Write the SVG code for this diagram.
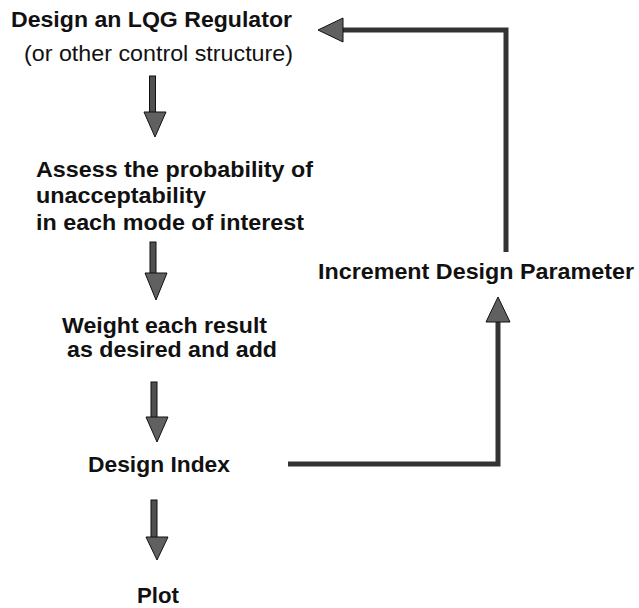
<svg xmlns="http://www.w3.org/2000/svg" width="639" height="608" viewBox="0 0 639 608">
<defs>
<style>
text{font-family:"Liberation Sans",Arial,Helvetica,sans-serif;font-size:22.5px;fill:#111;}
.b{font-weight:700;}
.r{font-weight:400;font-size:22px;}
.shaft{fill:#505050;stroke:#111;stroke-width:1;}
.head{fill:#606060;stroke:#111;stroke-width:1;stroke-linejoin:miter;}
.fb{fill:none;stroke:#333;stroke-width:5;stroke-linejoin:miter;}
</style>
</defs>
<rect width="639" height="608" fill="#fff"/>
<g id="n1">
<text class="b" x="11" y="27" textLength="281" lengthAdjust="spacingAndGlyphs">Design an LQG Regulator</text>
<text class="r" x="24" y="61" textLength="269" lengthAdjust="spacingAndGlyphs">(or other control structure)</text>
</g>
<g id="n2">
<text class="b" x="36" y="177" textLength="277" lengthAdjust="spacingAndGlyphs">Assess the probability of</text>
<text class="b" x="36" y="203" textLength="170" lengthAdjust="spacingAndGlyphs">unacceptability</text>
<text class="b" x="36" y="230" textLength="268" lengthAdjust="spacingAndGlyphs">in each mode of interest</text>
</g>
<g id="n3">
<text class="b" x="62" y="333" textLength="205" lengthAdjust="spacingAndGlyphs">Weight each result</text>
<text class="b" x="67" y="357" textLength="210" lengthAdjust="spacingAndGlyphs">as desired and add</text>
</g>
<g id="n4">
<text class="b" x="88" y="472" textLength="142" lengthAdjust="spacingAndGlyphs">Design Index</text>
</g>
<g id="n5">
<text class="b" x="318" y="279" textLength="316" lengthAdjust="spacingAndGlyphs">Increment Design Parameter</text>
</g>
<g id="n6">
<text class="b" x="137" y="603" textLength="42" lengthAdjust="spacingAndGlyphs">Plot</text>
</g>
<g id="connectors">
<rect class="shaft" x="149.5" y="76" width="6" height="37"/>
<polygon class="head" points="144,112 166,112 155,137"/>
<rect class="shaft" x="150" y="242" width="6" height="32"/>
<polygon class="head" points="145,273 167,273 156,300"/>
<rect class="shaft" x="151" y="382" width="6" height="36"/>
<polygon class="head" points="146,417 168,417 157,442"/>
<rect class="shaft" x="151" y="500" width="6" height="38"/>
<polygon class="head" points="146,537 168,537 157,560"/>
<polyline class="fb" points="288,464 498,464 498,321"/>
<polygon class="head" points="486,322 510,322 498,297"/>
<polyline class="fb" points="506,252 506,30 342,30"/>
<polygon class="head" points="343,18 343,42 318,30"/>
</g>
</svg>
